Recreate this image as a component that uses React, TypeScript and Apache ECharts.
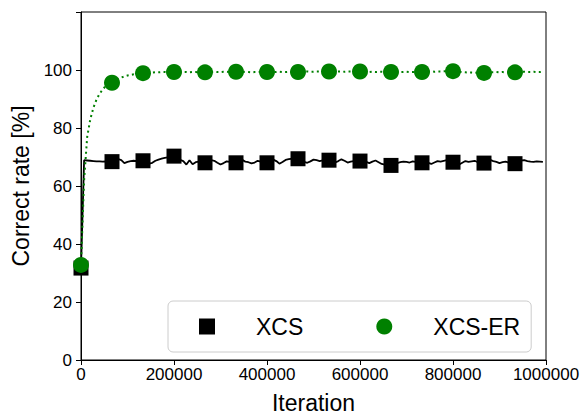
import React, { useEffect, useRef } from "react";
import * as echarts from "echarts";

// Iteration grid: 150 samples over 0..1,000,000
const MAX_ITER = 1000000;
const SAMPLE_STEP = MAX_ITER / 150;
const MARK_EVERY = 10;

const xTicks = [0, 200000, 400000, 600000, 800000, 1000000];
const yTicks = [0, 20, 40, 60, 80, 100];

const xcsValues = [
  31.7, 68.9, 68.8, 68.7, 68.6, 68.5, 68.5, 68.4, 68.5, 68.4,
  68.4, 68.8, 69.3, 68.9, 67.9, 68.3, 68.6, 68.7, 68.6, 68.7,
  68.7, 68.1, 67.7, 68.0, 68.7, 69.1, 69.4, 69.7, 69.9, 70.1,
  70.3, 69.6, 69.0, 68.6, 67.4, 68.9, 67.5, 68.2, 68.4, 68.1,
  68.0, 68.4, 68.9, 68.7, 68.0, 67.4, 67.9, 68.5, 68.3, 68.2,
  68.0, 68.6, 69.0, 68.4, 68.2, 67.8, 68.1, 68.7, 68.4, 68.1,
  68.0, 68.4, 69.1, 68.6, 67.7, 68.3, 69.0, 69.3, 69.4, 69.5,
  69.4, 68.7, 68.3, 68.0, 68.5, 69.1, 68.9, 68.6, 68.8, 69.0,
  68.9, 68.4, 68.1, 68.6, 69.2, 68.7, 68.1, 68.4, 68.6, 68.7,
  68.6, 68.9, 68.3, 67.9, 68.4, 68.8, 68.2, 67.6, 67.4, 67.2,
  67.1, 67.4, 67.9, 68.2, 68.4, 68.3, 68.1, 68.5, 68.3, 68.1,
  68.0, 68.3, 68.0, 67.6, 68.1, 68.6, 68.4, 68.7, 68.9, 68.4,
  68.2, 67.8, 67.4, 68.0, 68.6, 68.3, 68.5, 68.7, 68.2, 68.0,
  67.9, 68.4, 69.0, 68.6, 68.3, 67.9, 68.2, 68.4, 68.1, 67.9,
  67.7, 68.2, 68.8, 68.9, 68.6, 68.4, 68.3, 68.5, 68.4, 68.3,
];

const xcsErValues = [
  32.8, 62.0, 77.0, 83.0, 87.0, 89.8, 91.8, 93.3, 94.5, 95.2,
  95.6, 96.3, 96.9, 97.4, 97.8, 98.1, 98.3, 98.5, 98.7, 98.8,
  98.9, 99.0, 99.1, 99.1, 99.2, 99.2, 99.3, 99.3, 99.2, 99.3,
  99.3, 99.3, 99.2, 99.3, 99.3, 99.2, 99.3, 99.3, 99.2, 99.2,
  99.2, 99.3, 99.3, 99.4, 99.3, 99.3, 99.4, 99.4, 99.3, 99.4,
  99.4, 99.3, 99.3, 99.4, 99.3, 99.2, 99.3, 99.3, 99.4, 99.3,
  99.3, 99.4, 99.3, 99.3, 99.4, 99.3, 99.3, 99.4, 99.3, 99.3,
  99.3, 99.4, 99.4, 99.5, 99.4, 99.4, 99.5, 99.5, 99.4, 99.5,
  99.5, 99.5, 99.4, 99.5, 99.5, 99.4, 99.5, 99.5, 99.4, 99.5,
  99.5, 99.4, 99.4, 99.3, 99.4, 99.3, 99.4, 99.4, 99.3, 99.3,
  99.3, 99.3, 99.4, 99.3, 99.3, 99.4, 99.3, 99.3, 99.4, 99.3,
  99.3, 99.4, 99.5, 99.5, 99.4, 99.5, 99.5, 99.6, 99.5, 99.6,
  99.6, 99.5, 99.4, 99.3, 99.2, 99.1, 99.1, 99.0, 99.1, 99.0,
  99.0, 99.1, 99.2, 99.2, 99.3, 99.2, 99.3, 99.2, 99.2, 99.2,
  99.2, 99.3, 99.3, 99.4, 99.3, 99.3, 99.4, 99.3, 99.3, 99.4,
];

const FONT = "'Liberation Sans', Arial, sans-serif";

function toPairs(vals: number[]) {
  return vals.map((v, i) => [i * SAMPLE_STEP, v]);
}
function markers(vals: number[]) {
  return toPairs(vals).filter((_, i) => i % MARK_EVERY === 0);
}

export default function App() {
  const ref = useRef<HTMLDivElement>(null);
  useEffect(() => {
    if (!ref.current) return;
    const chart = echarts.init(ref.current, null, { renderer: "svg" });
    chart.setOption({
      animation: false,
      backgroundColor: "#ffffff",
      grid: {
        left: 81,
        right: 38,
        top: 12,
        bottom: 58,
        show: true,
        borderColor: "#000",
        borderWidth: 1,
        backgroundColor: "transparent",
      },
      xAxis: {
        type: "value",
        min: 0,
        max: MAX_ITER,
        interval: xTicks[1] - xTicks[0],
        name: "Iteration",
        nameLocation: "middle",
        nameGap: 31,
        nameTextStyle: { fontFamily: FONT, fontSize: 23, color: "#000" },
        axisLine: { show: true, lineStyle: { color: "#000", width: 1 } },
        axisTick: { show: true, inside: false, length: 5, lineStyle: { color: "#000" } },
        axisLabel: {
          fontFamily: FONT,
          fontSize: 17,
          color: "#000",
          margin: 6,
          formatter: (v: number) => (xTicks.includes(v) ? String(v) : ""),
        },
        splitLine: { show: false },
      },
      yAxis: {
        type: "value",
        min: 0,
        max: 120,
        interval: yTicks[1] - yTicks[0],
        name: "Correct rate [%]",
        nameLocation: "middle",
        nameGap: 46,
        nameTextStyle: { fontFamily: FONT, fontSize: 23, color: "#000" },
        axisLine: { show: true, lineStyle: { color: "#000", width: 1 } },
        axisTick: { show: true, inside: false, length: 5, lineStyle: { color: "#000" } },
        axisLabel: {
          fontFamily: FONT,
          fontSize: 17,
          color: "#000",
          margin: 9,
          formatter: (v: number) => (yTicks.includes(v) ? String(v) : ""),
        },
        splitLine: { show: false },
      },
      legend: {
        data: [
          { name: "XCS", icon: "rect" },
          { name: "XCS-ER", icon: "circle" },
        ],
        left: 168,
        top: 301,
        orient: "horizontal",
        padding: [14, 11, 14, 31],
        itemGap: 73,
        itemWidth: 16,
        itemHeight: 16,
        borderColor: "#cccccc",
        borderWidth: 1,
        borderRadius: 5,
        backgroundColor: "rgba(255,255,255,0.8)",
        selectedMode: false,
        formatter: (name: string) => `{pad|}{t|${name}}`,
        textStyle: {
          fontFamily: FONT,
          fontSize: 23,
          color: "#000",
          rich: {
            pad: { width: 36 },
            t: { fontFamily: FONT, fontSize: 23, color: "#000" },
          },
        },
      },
      series: [
        {
          name: "XCS line",
          type: "line",
          data: toPairs(xcsValues),
          showSymbol: false,
          symbol: "none",
          lineStyle: { color: "#000", width: 1.8 },
          itemStyle: { color: "#000" },
          silent: true,
          z: 2,
        },
        {
          name: "XCS",
          type: "scatter",
          data: markers(xcsValues),
          symbol: "rect",
          symbolSize: 15,
          itemStyle: { color: "#000000", opacity: 1 },
          silent: true,
          z: 3,
        },
        {
          name: "XCS-ER line",
          type: "line",
          data: toPairs(xcsErValues),
          showSymbol: false,
          symbol: "none",
          lineStyle: { color: "#008000", width: 2, type: [2, 3.3], cap: "butt" },
          itemStyle: { color: "#008000" },
          silent: true,
          z: 4,
        },
        {
          name: "XCS-ER",
          type: "scatter",
          data: markers(xcsErValues),
          symbol: "circle",
          symbolSize: 16,
          itemStyle: { color: "#008000", opacity: 1 },
          silent: true,
          z: 5,
        },
      ],
    });
    return () => chart.dispose();
  }, []);
  return (
    <div
      ref={ref}
      style={{ position: "fixed", left: 0, top: 0, width: 584, height: 419 }}
    />
  );
}
